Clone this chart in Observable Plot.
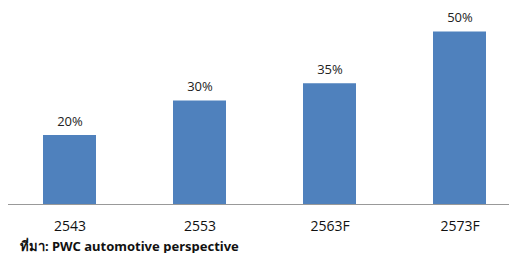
<!DOCTYPE html>
<html>
<head>
<meta charset="utf-8">
<script src="https://cdn.jsdelivr.net/npm/d3@7"></script>
<script src="https://cdn.jsdelivr.net/npm/@observablehq/plot@0.6"></script>
<style>
  html, body { margin: 0; padding: 0; background: #fff; }
  figure { margin: 0; }
  figcaption { font-family: "Noto Sans", "DejaVu Sans", sans-serif; font-weight: bold; font-size: 13px; line-height: 14px; color: #111; padding-left: 20px; padding-top: 3px; }
</style>
</head>
<body>
<div id="chart"></div>
<script>
const years = ["2543", "2553", "2563F", "2573F"];
const shares = [20, 30, 35, 50];
const labels = ["20%", "30%", "35%", "50%"];
const source = "ที่มา: PWC automotive perspective";

const data = years.map((y, i) => ({year: y, value: shares[i], label: labels[i]}));

const chart = Plot.plot({
  width: 509,
  height: 236,
  marginLeft: 8,
  marginRight: 0,
  marginTop: 0,
  marginBottom: 32,
  style: {fontFamily: "'Open Sans', sans-serif", fontSize: "14px", color: "#111", background: "#fff"},
  x: {domain: years, range: [5, 525], paddingInner: 0.59, paddingOuter: 0.295, label: null, tickSize: 0, tickPadding: 17},
  y: {domain: [0, 50], range: [204, 31.5], axis: null},
  marks: [
    Plot.barY(data, {x: "year", y: "value", fill: "#4F81BD"}),
    Plot.ruleY([0], {stroke: "#999", strokeWidth: 1}),
    Plot.text(data, {x: "year", y: "value", text: "label", dy: -14, fill: "#222", fontSize: 13})
  ],
  caption: source
});
document.getElementById("chart").append(chart);
</script>
</body>
</html>
